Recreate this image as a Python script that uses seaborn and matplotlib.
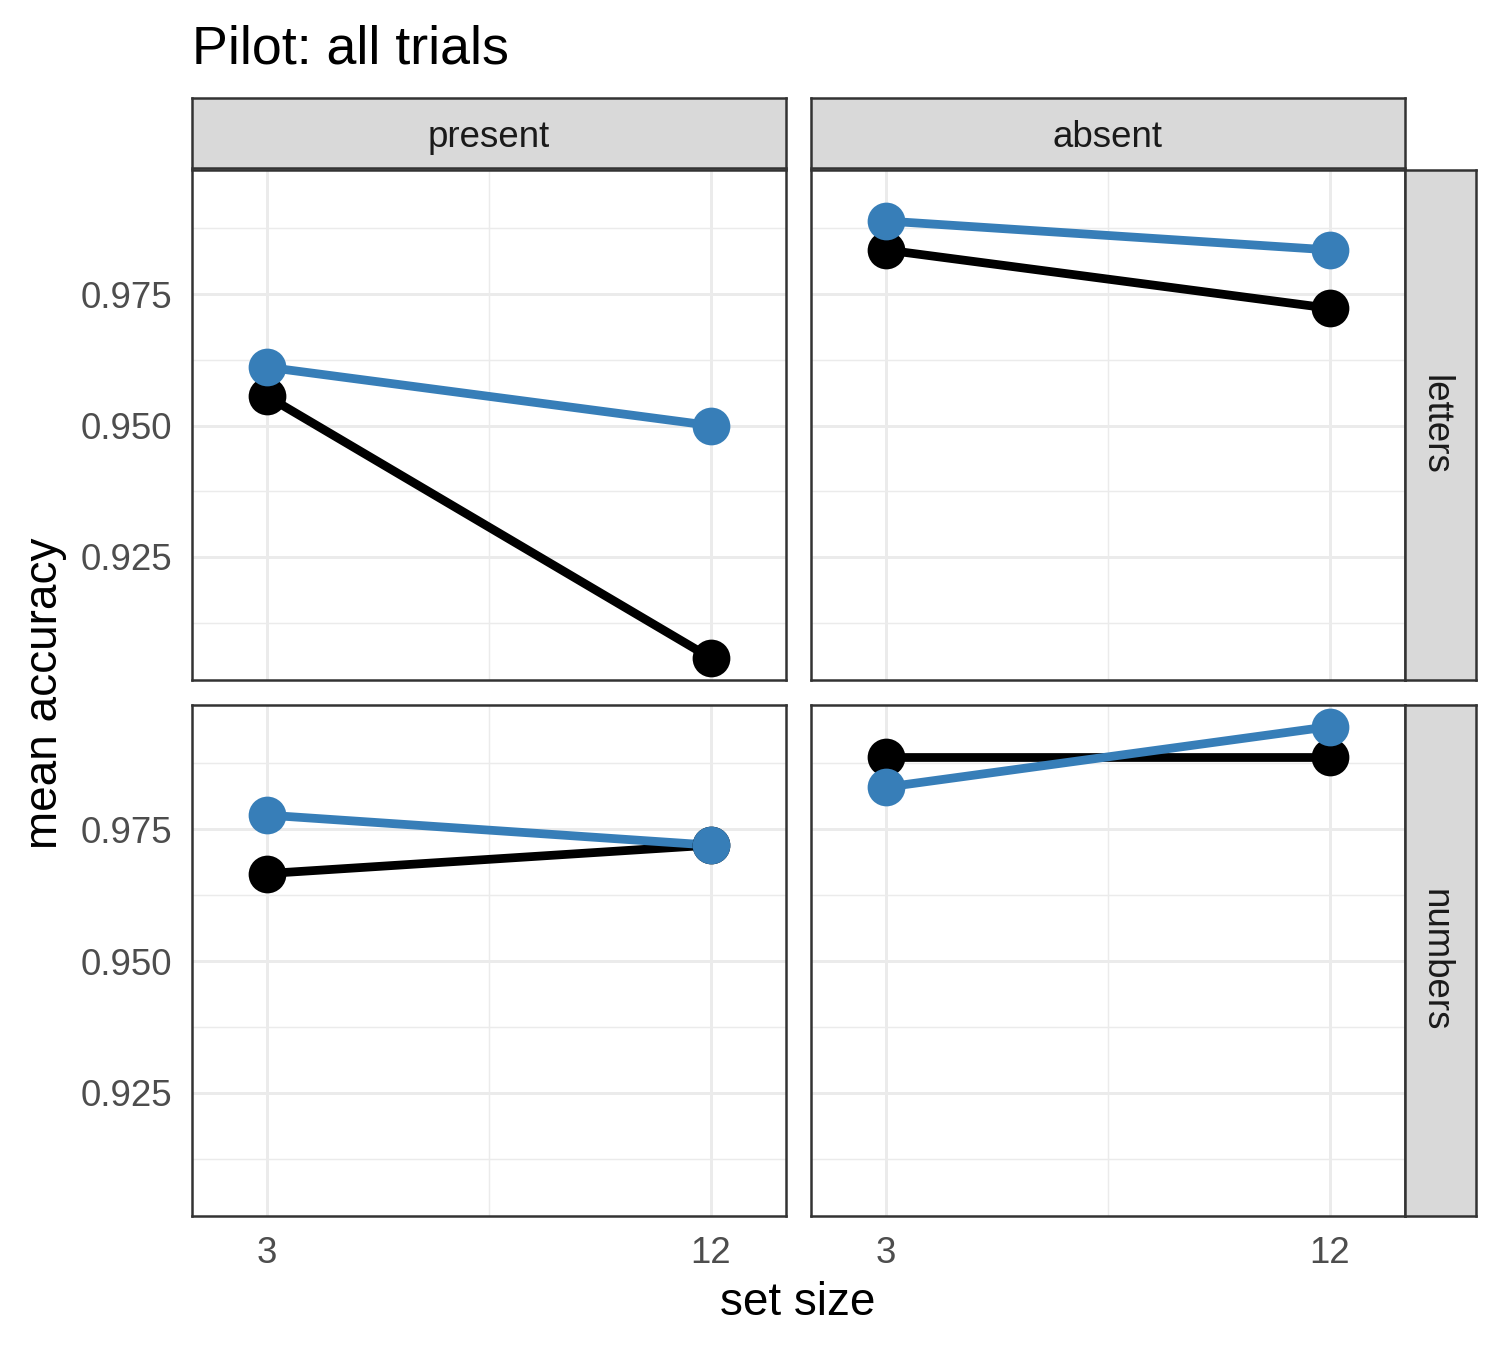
import matplotlib
matplotlib.use("Agg")
import matplotlib.pyplot as plt
import seaborn as sns
import pandas as pd

sns.set_theme(style="white")
plt.rcParams["font.family"] = ["Liberation Sans", "DejaVu Sans"]

# values
set_sizes = [3, 12]
targets = ["present", "absent"]
stimuli = ["letters", "numbers"]
groups = ["g1", "g2"]
group_colors = {"g1": "#000000", "g2": "#377EB8"}

acc = {
    ("present", "letters", "g1"): [0.9556, 0.9058],
    ("present", "letters", "g2"): [0.9611, 0.9500],
    ("absent", "letters", "g1"): [0.9834, 0.9723],
    ("absent", "letters", "g2"): [0.9889, 0.9834],
    ("present", "numbers", "g1"): [0.9666, 0.9720],
    ("present", "numbers", "g2"): [0.9777, 0.9720],
    ("absent", "numbers", "g1"): [0.9887, 0.9887],
    ("absent", "numbers", "g2"): [0.9830, 0.9945],
}

rows = []
for (t, s, g), vals in acc.items():
    for n, v in zip(set_sizes, vals):
        rows.append({"target": t, "stim": s, "group": g, "set size": n, "mean accuracy": v})
df = pd.DataFrame(rows)

W, H = 1500, 1350
fig = plt.figure(figsize=(5, 4.5), dpi=300)

def box(x0, y0, x1, y1):
    return [x0 / W, 1 - y1 / H, (x1 - x0) / W, (y1 - y0) / H]

col_x = [(192, 786), (811, 1405)]
row_y = [(170, 680), (705, 1216)]
edge = "#333333"

for ci, t in enumerate(targets):
    for ri, s in enumerate(stimuli):
        ax = fig.add_axes(box(col_x[ci][0], row_y[ri][0], col_x[ci][1], row_y[ri][1]))
        sub = df[(df["target"] == t) & (df["stim"] == s)]
        # lines first, then points on top
        sns.lineplot(data=sub, x="set size", y="mean accuracy", hue="group",
                     hue_order=groups, palette=group_colors, linewidth=2.1,
                     legend=False, ax=ax, zorder=2)
        for g in groups:
            gs = sub[sub["group"] == g]
            ax.scatter(gs["set size"], gs["mean accuracy"], s=82,
                       color=group_colors[g], zorder=3, linewidths=0)
        ax.set_xlim(1.48, 13.53)
        ax.set_ylim(0.9016, 0.9986)
        ax.set_xticks([3, 12])
        ax.set_xticks([7.5], minor=True)
        ax.set_yticks([0.925, 0.950, 0.975])
        ax.set_yticks([0.9125, 0.9375, 0.9625, 0.9875], minor=True)
        ax.grid(True, which="major", color="#EBEBEB", linewidth=0.7, zorder=0)
        ax.grid(True, which="minor", color="#EBEBEB", linewidth=0.35, zorder=0)
        ax.set_axisbelow(True)
        for sp in ax.spines.values():
            sp.set_color(edge)
            sp.set_linewidth(0.6)
        ax.tick_params(which="major", length=2.75, width=0.5, color=edge,
                       labelsize=8.8, labelcolor="#4D4D4D", pad=2)
        ax.tick_params(which="minor", length=0)
        ax.set_xlabel("")
        ax.set_ylabel("")
        if ci == 0:
            ax.set_yticklabels(["0.925", "0.950", "0.975"])
        else:
            ax.tick_params(axis="y", labelleft=False, left=False)
        if ri == 0:
            ax.tick_params(axis="x", labelbottom=False, bottom=False)
        else:
            ax.set_xticklabels(["3", "12"])

# strips
for ci, t in enumerate(targets):
    sax = fig.add_axes(box(col_x[ci][0], 98, col_x[ci][1], 168))
    sax.set_facecolor("#D9D9D9")
    sax.set_xticks([])
    sax.set_yticks([])
    for sp in sax.spines.values():
        sp.set_color(edge)
        sp.set_linewidth(0.6)
    sax.text(0.5, 0.44, t, ha="center", va="center", fontsize=8.8, color="#1A1A1A")

for ri, s in enumerate(stimuli):
    sax = fig.add_axes(box(1405, row_y[ri][0], 1476, row_y[ri][1]))
    sax.set_facecolor("#D9D9D9")
    sax.set_xticks([])
    sax.set_yticks([])
    for sp in sax.spines.values():
        sp.set_color(edge)
        sp.set_linewidth(0.6)
    sax.text(0.42, 0.5, s, ha="center", va="center", rotation=-90,
             fontsize=8.8, color="#1A1A1A")

fig.text(192 / W, 1 - 64 / H, "Pilot: all trials", ha="left", va="baseline",
         fontsize=12.9, color="black")
fig.text(798 / W, 1 - 1303 / H, "set size", ha="center", va="center",
         fontsize=11, color="black")
fig.text(45 / W, 1 - 693 / H, "mean accuracy", ha="center", va="center",
         rotation=90, fontsize=11, color="black")

fig.savefig("out.png", dpi=300, facecolor="white")
